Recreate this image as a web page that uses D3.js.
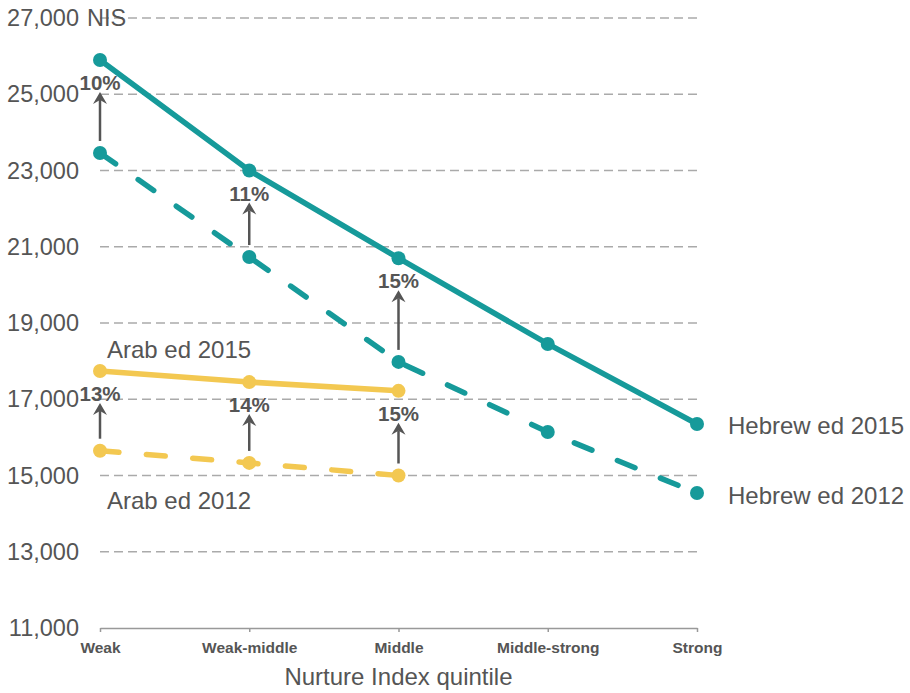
<!DOCTYPE html>
<html>
<head>
<meta charset="utf-8">
<script src="https://cdn.jsdelivr.net/npm/d3@7"></script>
<style>
body { margin: 0; background: #fff; }
text { font-family: "Liberation Sans", Arial, sans-serif; fill: #555; }
</style>
</head>
<body>
<svg id="chart" width="910" height="693"></svg>
<script>
// data
var quintiles = ["Weak", "Weak-middle", "Middle", "Middle-strong", "Strong"];
var hebrew2015 = [25900, 23000, 20700, 18450, 16350];
var hebrew2012 = [23460, 20730, 17980, 16140, 14540];
var arab2015 = [17740, 17450, 17220];
var arab2012 = [15650, 15330, 15000];
var hebrewRise = ["10%", "11%", "15%"];
var arabRise = ["13%", "14%", "15%"];
var yTicks = [11000, 13000, 15000, 17000, 19000, 21000, 23000, 25000, 27000];

var teal = "#169a9a",
	yellow = "#f3c851",
	grey = "#555";

var svg = d3.select("#chart");

var x = d3.scalePoint()
	.domain(quintiles)
	.range([100, 697]);

var y = d3.scaleLinear()
	.domain([11000, 27000])
	.range([628, 18]);

// grid
svg.append("g")
	.selectAll("line")
	.data(yTicks.slice(1))
	.enter().append("line")
	.attr("x1", x("Weak"))
	.attr("x2", x("Strong"))
	.attr("y1", d => y(d))
	.attr("y2", d => y(d))
	.attr("stroke", "#aaa")
	.attr("stroke-width", 1.5)
	.attr("stroke-dasharray", "9,5");

// y labels
var fmt = d3.format(",");
svg.append("g")
	.selectAll("text")
	.data(yTicks)
	.enter().append("text")
	.attr("x", 79)
	.attr("y", d => y(d) + 8)
	.attr("text-anchor", "end")
	.style("font-size", "23.5px")
	.text(d => fmt(d));

svg.append("text")
	.attr("x", 87)
	.attr("y", y(27000) + 8)
	.style("font-size", "23.5px")
	.text("NIS");

// x axis
var xAxis = svg.append("g")
	.attr("transform", "translate(0," + y(11000) + ")")
	.call(d3.axisBottom(x).tickSize(4).tickPadding(10).tickSizeOuter(0));
xAxis.select(".domain").attr("stroke", "#999").attr("stroke-width", 1.5);
xAxis.selectAll(".tick line").attr("stroke", "#999").attr("stroke-width", 1.5);
xAxis.selectAll(".tick text")
	.attr("fill", grey)
	.style("font-family", '"Liberation Sans", Arial, sans-serif')
	.style("font-size", "15.5px")
	.style("font-weight", "bold");

svg.append("text")
	.attr("x", x("Middle"))
	.attr("y", 685)
	.attr("text-anchor", "middle")
	.style("font-size", "24px")
	.text("Nurture Index quintile");

// lines
var line = d3.line()
	.x((d, i) => x(quintiles[i]))
	.y(d => y(d));

function drawSeries(values, color, dashed) {
	svg.append("path")
		.datum(values)
		.attr("d", line)
		.attr("fill", "none")
		.attr("stroke", color)
		.attr("stroke-width", 5.5)
		.attr("stroke-linecap", "round")
		.attr("stroke-dasharray", dashed ? "19,27.5" : null);
	svg.append("g")
		.selectAll("circle")
		.data(values)
		.enter().append("circle")
		.attr("cx", (d, i) => x(quintiles[i]))
		.attr("cy", d => y(d))
		.attr("r", 7)
		.attr("fill", color);
}

drawSeries(hebrew2012, teal, true);
drawSeries(hebrew2015, teal, false);
drawSeries(arab2012, yellow, true);
drawSeries(arab2015, yellow, false);

// rise arrows + labels
function drawRise(upper, lower, labels) {
	labels.forEach(function(lbl, i) {
		var cx = x(quintiles[i]),
			top = y(upper[i]) + 32,
			bottom = y(lower[i]) - 12;
		svg.append("line")
			.attr("x1", cx).attr("x2", cx)
			.attr("y1", bottom).attr("y2", top + 8)
			.attr("stroke", grey)
			.attr("stroke-width", 2.5);
		svg.append("path")
			.attr("d", "M" + cx + "," + top + "L" + (cx - 7) + "," + (top + 12) +
				"L" + cx + "," + (top + 8) + "L" + (cx + 7) + "," + (top + 12) + "Z")
			.attr("fill", grey);
		svg.append("text")
			.attr("x", cx)
			.attr("y", y(upper[i]) + 30)
			.attr("text-anchor", "middle")
			.style("font-size", "20.5px")
			.style("font-weight", "bold")
			.text(lbl);
	});
}

drawRise(hebrew2015, hebrew2012, hebrewRise);
drawRise(arab2015, arab2012, arabRise);

// series labels
svg.append("text")
	.attr("x", x("Strong") + 31)
	.attr("y", y(hebrew2015[4]) + 10)
	.style("font-size", "24px")
	.text("Hebrew ed 2015");
svg.append("text")
	.attr("x", x("Strong") + 31)
	.attr("y", y(hebrew2012[4]) + 11)
	.style("font-size", "24px")
	.text("Hebrew ed 2012");
svg.append("text")
	.attr("x", x("Weak") + 7)
	.attr("y", y(arab2015[0]) - 13)
	.style("font-size", "24px")
	.text("Arab ed 2015");
svg.append("text")
	.attr("x", x("Weak") + 7)
	.attr("y", y(arab2012[0]) + 58)
	.style("font-size", "24px")
	.text("Arab ed 2012");
</script>
</body>
</html>
